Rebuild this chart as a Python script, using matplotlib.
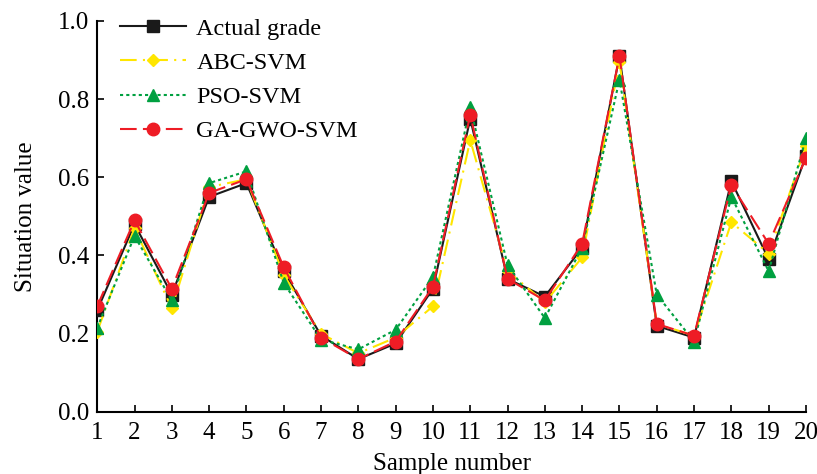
import matplotlib
matplotlib.use("Agg")
import matplotlib.pyplot as plt

samples = list(range(1, 21))
actual = [0.26, 0.48, 0.30, 0.55, 0.585, 0.36, 0.195, 0.135, 0.175, 0.315,
          0.75, 0.34, 0.295, 0.42, 0.91, 0.22, 0.19, 0.59, 0.39, 0.655]
abc_svm = [0.205, 0.47, 0.265, 0.575, 0.595, 0.35, 0.20, 0.15, 0.19, 0.27,
           0.695, 0.36, 0.28, 0.395, 0.895, 0.225, 0.195, 0.485, 0.405, 0.68]
pso_svm = [0.215, 0.45, 0.285, 0.585, 0.615, 0.33, 0.185, 0.16, 0.21, 0.345,
           0.78, 0.375, 0.24, 0.42, 0.85, 0.30, 0.18, 0.55, 0.36, 0.70]
gagwo_svm = [0.27, 0.49, 0.315, 0.56, 0.595, 0.37, 0.19, 0.135, 0.18, 0.32,
             0.76, 0.34, 0.285, 0.43, 0.91, 0.225, 0.195, 0.58, 0.43, 0.65]
yticks = [0.0, 0.2, 0.4, 0.6, 0.8, 1.0]

plt.rcParams['font.family'] = ['Liberation Serif', 'DejaVu Serif']
plt.rcParams['mathtext.fontset'] = 'stix'

fig = plt.figure(figsize=(8.17, 4.74), dpi=100)
ax = fig.add_axes([0.119, 0.131, 0.8675, 0.825])

ax.plot(samples, actual, color='#1a1a1a', lw=1.5, ls='-', marker='s', ms=8,
        label='Actual grade', zorder=3)
ax.plot(samples, abc_svm, color='#ffe600', lw=1.5, ls=(0, (8, 3, 1, 3)), marker='D', ms=6.5,
        label='ABC-SVM', zorder=4)
ax.plot(samples, pso_svm, color='#00a040', lw=1.5, ls=(0, (1.5, 1.5)), marker='^', ms=8.5,
        label='PSO-SVM', zorder=5)
ax.plot(samples, gagwo_svm, color='#ee1c25', lw=1.5, ls=(0, (8, 3)), marker='o', ms=9,
        label='GA-GWO-SVM', zorder=6)

ax.set_xlim(1, 20)
ax.set_ylim(0, 1.0)
ax.set_xticks(samples)
ax.set_yticks(yticks)
ax.set_yticklabels([f"{v:.1f}" for v in yticks])
ax.spines['top'].set_visible(False)
ax.spines['right'].set_visible(False)
for s in ['left', 'bottom']:
    ax.spines[s].set_linewidth(1.5)
ax.tick_params(direction='in', length=5, width=1.2, labelsize=18)
ax.tick_params(axis='x', pad=7.5)
ax.tick_params(axis='y', pad=6)
ax.set_xlabel('Sample number', fontsize=18, labelpad=6)
ax.set_ylabel('Situation value', fontsize=18, labelpad=15)

leg = ax.legend(loc='upper left', bbox_to_anchor=(0.032, 1.008), frameon=False, fontsize=17.5,
                borderpad=0, borderaxespad=0,
                handlelength=2.7, labelspacing=0.5, handletextpad=0.45, markerscale=1.0)

fig.savefig('out.png', dpi=100)
